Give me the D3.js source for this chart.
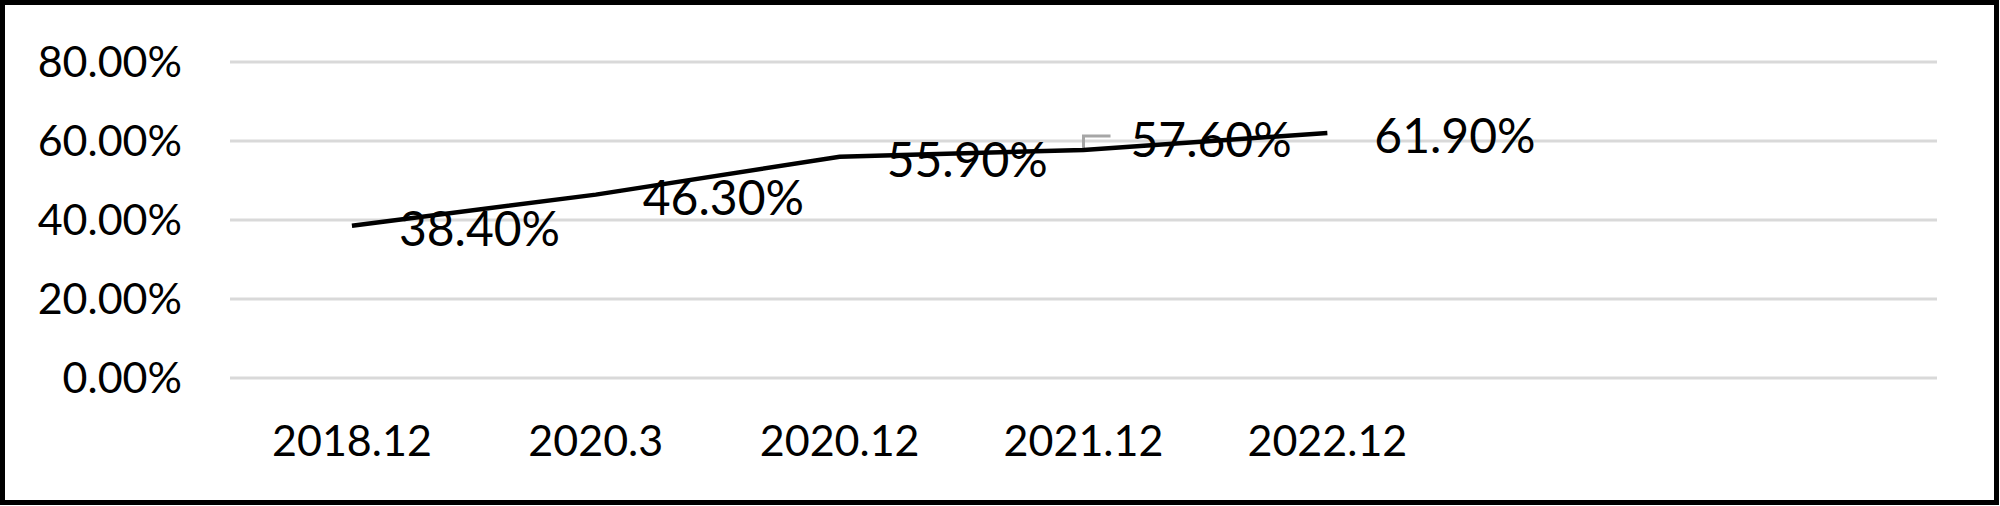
<!DOCTYPE html>
<html>
<head>
<meta charset="utf-8">
<script src="https://cdn.jsdelivr.net/npm/d3@7"></script>
<style>
  body { margin: 0; background: #fff; }
  text { font-family: Lato, "Noto Sans", sans-serif; fill: #000; }
</style>
</head>
<body>
<script>
// chart data
var categories = ["2018.12", "2020.3", "2020.12", "2021.12", "2022.12", "", ""];
var values = [0.384, 0.463, 0.559, 0.576, 0.619];
var yTicks = [0, 0.2, 0.4, 0.6, 0.8];

var w = 2000;
var h = 506;
var plotLeft = 230, plotRight = 1937, plotTop = 61.5, plotBottom = 377.5;

var svg = d3.select("body")
            .append("svg")
            .attr("width", w)
            .attr("height", h);

svg.append("rect")
   .attr("width", w)
   .attr("height", h)
   .attr("fill", "#fff");

var x = d3.scaleBand().domain(d3.range(categories.length)).range([plotLeft, plotRight]);
var y = d3.scaleLinear().domain([0, 0.8]).range([plotBottom, plotTop]);

var fmt = d3.format(".2%");

// gridlines + y labels
var yAxis = d3.axisLeft(y)
              .tickValues(yTicks)
              .tickSize(-(plotRight - plotLeft))
              .tickFormat(fmt);

var gy = svg.append("g")
            .attr("transform", "translate(" + plotLeft + ",0)")
            .call(yAxis);
gy.select(".domain").remove();
gy.selectAll(".tick line")
  .attr("stroke", "#d9d9d9")
  .attr("stroke-width", 3);
gy.selectAll(".tick text")
  .attr("x", -48)
  .attr("dy", null)
  .attr("y", 15)
  .style("font-size", "43px")
  .style("font-family", "Lato, sans-serif")
  .attr("fill", "#000");

// x labels
var xAxis = d3.axisBottom(x)
              .tickSize(0)
              .tickFormat(function(i) { return categories[i]; });

var gx = svg.append("g")
            .attr("transform", "translate(0," + plotBottom + ")")
            .call(xAxis);
gx.select(".domain").remove();
gx.selectAll(".tick text")
  .attr("y", 78)
  .attr("dy", null)
  .style("font-size", "43px")
  .style("font-family", "Lato, sans-serif")
  .attr("fill", "#000");

function cx(i) { return x(i) + x.bandwidth() / 2; }

// leader line for the moved label
var moved = 3;
svg.append("path")
   .attr("d", "M" + cx(moved) + "," + y(values[moved]) +
              "V" + (y(values[moved]) - 14) +
              "H" + (cx(moved) + 27))
   .attr("fill", "none")
   .attr("stroke", "#a6a6a6")
   .attr("stroke-width", 3);

// line
var line = d3.line()
             .x(function(d, i) { return cx(i); })
             .y(function(d) { return y(d); });

svg.append("path")
   .datum(values)
   .attr("d", line)
   .attr("fill", "none")
   .attr("stroke", "#000")
   .attr("stroke-width", 4.5);

// data labels
svg.selectAll(".lbl")
   .data(values)
   .enter()
   .append("text")
   .attr("class", "lbl")
   .attr("x", function(d, i) { return cx(i) + 47; })
   .attr("y", function(d, i) { return y(d) + (i == moved ? 7 : 20); })
   .style("font-size", "48px")
   .text(function(d) { return fmt(d); });

// frame
svg.append("rect")
   .attr("x", 2.5)
   .attr("y", 2.5)
   .attr("width", 1994)
   .attr("height", 500)
   .attr("fill", "none")
   .attr("stroke", "#000")
   .attr("stroke-width", 5);
</script>
</body>
</html>
